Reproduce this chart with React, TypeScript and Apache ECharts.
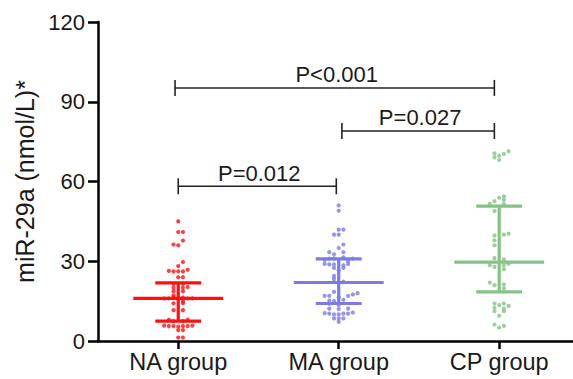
import React, { useEffect, useRef } from "react";
import * as echarts from "echarts";

const categories = ["NA group", "MA group", "CP group"];
const groupPositions = [1, 2, 3];
const yTicks = [0, 30, 60, 90, 120];
const colors = ["#ff1010", "#7b7be3", "#85c285"];

// centre line and error-bar ends per group
const centerValues = [16, 22, 29.7];
const lowValues = [7.5, 14.1, 18.5];
const highValues = [21.9, 30.9, 50.7];

// [horizontal jitter step, value]
const naPoints = [
  [0, 45],
  [0, 41], [1, 41],
  [-1, 36.3], [0, 36], [1, 37.8],
  [1, 29.7], [0, 28.2],
  [-2, 26.4], [-1, 26.2], [0, 26.2], [1, 26.2], [2, 26.8],
  [0, 24], [1, 24],
  [-1, 21.5], [1, 21.5],
  [-1, 20], [1, 20], [2, 20.3],
  [-1, 18.7], [1, 18.7],
  [-3, 16], [-2, 16], [-1, 16.3], [0, 16], [1, 16.3], [2, 16], [3, 16], [-1, 17.2], [1, 15],
  [-1, 14.2], [1, 14.2],
  [-1, 11.6], [1, 11.6],
  [-2, 8], [-1, 7.5], [1, 7.5], [2, 8],
  [-3, 5.8], [-2, 5.6], [-1, 5.6], [0, 5.4], [1, 5.6], [2, 5.6], [3, 5.8],
  [0, 4.1], [1, 4.1],
  [0, 1.3], [1, 1.3],
];

const maPoints = [
  [0, 51], [0, 49],
  [0, 41.9], [1, 41.9], [-1, 40], [0, 40],
  [1, 36.3], [0, 35],
  [-2, 33.4], [-1, 32.6], [1, 33.4],
  [-3, 30.5], [-2, 31], [-1, 31], [1, 31.5], [2, 30], [3, 31],
  [-3, 29], [-2, 28.8], [-1, 28.8], [1, 28.5], [2, 29],
  [-1, 27.5], [1, 27.5], [0, 26.6],
  [-1, 24.5], [-1, 23.5], [-1, 22.3], [1, 22.3],
  [-1, 18.5],
  [-3, 17], [-2, 17], [0, 16.5], [2, 17], [3, 17.5], [4, 18],
  [-2, 15.2], [-1, 15], [1, 15.5],
  [-2, 14], [0, 13.5],
  [-2, 12.2], [0, 12], [2, 12.2],
  [-3, 10.5], [-2, 10.3], [-1, 10], [0, 10], [1, 10.3], [2, 10.3], [3, 10.7],
  [-1, 8.5], [0, 8.5], [1, 8.5],
  [0, 7.2],
];

const cpPoints = [
  [-1, 70.6], [0, 69.7], [1, 70.4], [2, 71.4], [-1, 69.1], [0, 68.1],
  [0, 53.9], [1, 54.4], [1, 53.1], [-1, 52.6], [-2, 51.6], [1, 51.5],
  [-1, 48.9],
  [-1, 39.7], [1, 40], [2, 40.4], [-1, 37.9], [-1, 36],
  [-1, 31.2], [1, 30.7], [-2, 28.5], [-1, 27.9], [1, 28.5], [2, 29.1], [1, 27],
  [-2, 22], [-1, 21], [1, 21.3], [1, 19.8],
  [-1, 14.1], [0, 13.5], [1, 14.1], [2, 13.2], [-1, 12.5], [1, 12.2], [-1, 11.2], [1, 11.2], [0, 9.5],
  [-1, 6.2], [0, 5], [1, 5.7],
];

const groupPoints = [naPoints, maPoints, cpPoints];

// significance brackets
const bracketFrom = [0.98, 2.02, 1.0];
const bracketTo = [2.97, 2.97, 1.985];
const bracketY = [95.2, 79, 58.2];
const bracketLabels = ["P<0.001", "P=0.027", "P=0.012"];

const FONT = "'Liberation Sans', Arial, sans-serif";
const TEXT = "#1a1a1a";
const JITTER = 0.0293;

export default function App() {
  const ref = useRef<HTMLDivElement>(null);

  useEffect(() => {
    if (!ref.current) return;
    const chart = echarts.init(ref.current, undefined, { renderer: "svg" });

    const scatterSeries = groupPoints.map((pts, gi) => ({
      type: "scatter",
      name: categories[gi],
      data: pts.map(([dx, v]) => [groupPositions[gi] + dx * JITTER, v]),
      symbol: "circle",
      symbolSize: 4.2,
      itemStyle: { color: colors[gi] },
      z: 2,
    }));

    const errorData = groupPositions.map((x, i) => [x, centerValues[i], lowValues[i], highValues[i]]);

    const option: any = {
      animation: false,
      grid: { left: 98, right: 0, top: 22, bottom: 38 },
      xAxis: {
        type: "value",
        min: 0.5,
        max: 3.46,
        axisLine: { show: true, lineStyle: { color: "#000", width: 2.5 } },
        axisTick: {
          show: true,
          customValues: groupPositions,
          length: 8,
          lineStyle: { color: "#000", width: 2.5 },
        },
        axisLabel: {
          customValues: groupPositions,
          formatter: (v: number) => categories[Math.round(v) - 1] ?? "",
          fontSize: 23.5,
          fontFamily: FONT,
          color: TEXT,
          margin: 9,
        },
        splitLine: { show: false },
      },
      yAxis: {
        type: "value",
        min: 0,
        max: 120,
        interval: 30,
        name: "miR-29a (nmol/L)*",
        nameLocation: "middle",
        nameGap: 57,
        nameTextStyle: { fontSize: 25, fontFamily: FONT, color: TEXT },
        axisLine: { show: true, lineStyle: { color: "#000", width: 2.5 } },
        axisTick: { show: true, length: 10, lineStyle: { color: "#000", width: 2.5 } },
        axisLabel: {
          fontSize: 22,
          fontFamily: FONT,
          color: TEXT,
          margin: 13,
          formatter: (v: number) => (yTicks.includes(v) ? String(v) : ""),
        },
        splitLine: { show: false },
      },
      series: [
        ...scatterSeries,
        {
          type: "custom",
          data: errorData,
          z: 3,
          renderItem: (params: any, api: any) => {
            const i = params.dataIndex;
            const x = api.value(0);
            const mid = api.value(1);
            const lo = api.value(2);
            const hi = api.value(3);
            const c = colors[i];
            const style = { stroke: c, lineWidth: 3.2 };
            const mL = api.coord([x - 0.28, mid]);
            const mR = api.coord([x + 0.28, mid]);
            const hL = api.coord([x - 0.143, hi]);
            const hR = api.coord([x + 0.143, hi]);
            const lL = api.coord([x - 0.143, lo]);
            const lR = api.coord([x + 0.143, lo]);
            const vT = api.coord([x, hi]);
            const vB = api.coord([x, lo]);
            return {
              type: "group",
              children: [
                { type: "line", shape: { x1: vT[0], y1: vT[1], x2: vB[0], y2: vB[1] }, style },
                { type: "line", shape: { x1: mL[0], y1: mL[1], x2: mR[0], y2: mR[1] }, style },
                { type: "line", shape: { x1: hL[0], y1: hL[1], x2: hR[0], y2: hR[1] }, style },
                { type: "line", shape: { x1: lL[0], y1: lL[1], x2: lR[0], y2: lR[1] }, style },
              ],
            };
          },
        },
        {
          type: "custom",
          data: bracketFrom.map((f, i) => [f, bracketTo[i], bracketY[i]]),
          z: 4,
          renderItem: (params: any, api: any) => {
            const i = params.dataIndex;
            const p1 = api.coord([api.value(0), api.value(2)]);
            const p2 = api.coord([api.value(1), api.value(2)]);
            const style = { stroke: "#222", lineWidth: 1.6 };
            const t = 8;
            return {
              type: "group",
              children: [
                { type: "line", shape: { x1: p1[0], y1: p1[1], x2: p2[0], y2: p2[1] }, style },
                { type: "line", shape: { x1: p1[0], y1: p1[1] - t, x2: p1[0], y2: p1[1] + t }, style },
                { type: "line", shape: { x1: p2[0], y1: p2[1] - t, x2: p2[0], y2: p2[1] + t }, style },
                {
                  type: "text",
                  x: (p1[0] + p2[0]) / 2 + 2,
                  y: p1[1] - 2,
                  style: {
                    text: bracketLabels[i],
                    fontSize: 22,
                    fontFamily: FONT,
                    fill: TEXT,
                    align: "center",
                    verticalAlign: "bottom",
                  },
                },
              ],
            };
          },
        },
      ],
    };

    chart.setOption(option);
    return () => chart.dispose();
  }, []);

  return (
    <div
      ref={ref}
      style={{ position: "fixed", left: 0, top: 0, width: 573, height: 379, background: "#fff" }}
    />
  );
}
